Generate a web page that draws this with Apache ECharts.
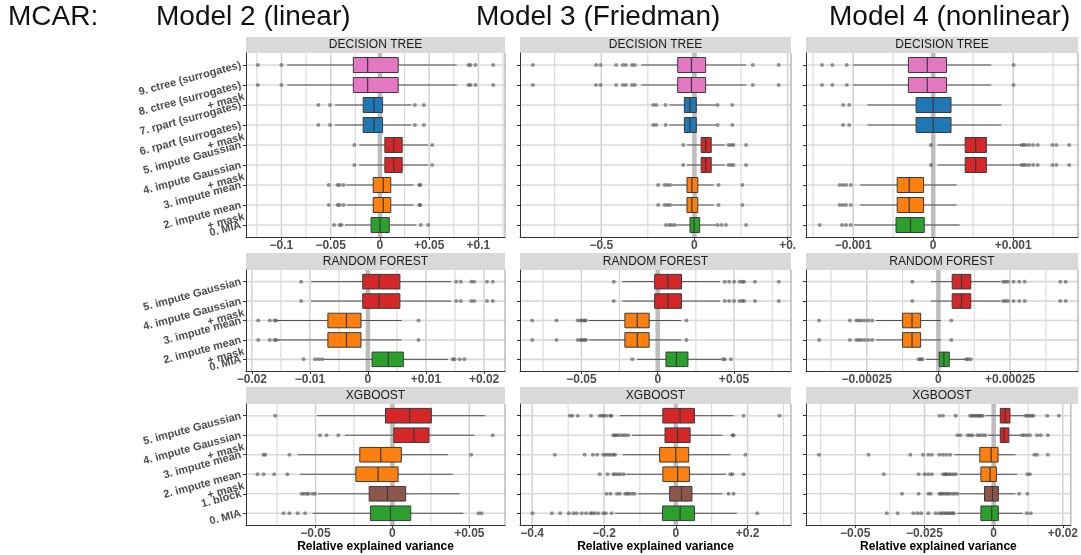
<!DOCTYPE html>
<html><head><meta charset="utf-8">
<script src="https://cdn.jsdelivr.net/npm/echarts@6/dist/echarts.min.js"></script>
<style>html,body{margin:0;padding:0;background:#fff}#c{width:1081px;height:555px}</style>
</head><body><div id="c"></div>
<script>
// ---------- categories (top to bottom) ----------
const catsDT = ['9. ctree (surrogates)', '8. ctree (surrogates)\n+ mask', '7. rpart (surrogates)', '6. rpart (surrogates)\n+ mask', '5. impute Gaussian', '4. impute Gaussian\n+ mask', '3. impute mean', '2. impute mean\n+ mask', '0. MIA'];
const catsRF = ['5. impute Gaussian', '4. impute Gaussian\n+ mask', '3. impute mean', '2. impute mean\n+ mask', '0. MIA'];
const catsXG = ['5. impute Gaussian', '4. impute Gaussian\n+ mask', '3. impute mean', '2. impute mean\n+ mask', '1. block', '0. MIA'];
const colsDT = ['#e377c2', '#e377c2', '#1f77b4', '#1f77b4', '#d62728', '#d62728', '#ff7f0e', '#ff7f0e', '#2ca02c'];
const colsRF = ['#d62728', '#d62728', '#ff7f0e', '#ff7f0e', '#2ca02c'];
const colsXG = ['#d62728', '#d62728', '#ff7f0e', '#ff7f0e', '#8c564b', '#2ca02c'];

// ---------- box stats: [lower whisker, Q1, median, Q3, upper whisker] ----------
// Model 2 (linear)
const m2DTBox = [[-0.094, -0.027, -0.0125, 0.0186, 0.078], [-0.094, -0.027, -0.0125, 0.0186, 0.078], [-0.0456, -0.017, -0.006, 0.0027, 0.032], [-0.0456, -0.017, -0.006, 0.0027, 0.032], [-0.021, 0.005, 0.0142, 0.0226, 0.049], [-0.021, 0.005, 0.0142, 0.0226, 0.049], [-0.034, -0.0068, 0.0034, 0.011, 0.034], [-0.034, -0.0068, 0.0034, 0.011, 0.034], [-0.0355, -0.009, 0, 0.0095, 0.037]];
const m2DTOut = [[-0.124, -0.100, 0.090, 0.092, 0.097, 0.115], [-0.124, -0.100, 0.090, 0.092, 0.097, 0.115], [-0.0625, -0.0507, 0.0355, 0.0446], [-0.0625, -0.0507, 0.0355, 0.0446], [-0.026, 0.053], [-0.026, 0.053], [-0.052, -0.043, -0.041, -0.037, 0.040, 0.041], [-0.052, -0.043, -0.041, -0.037, 0.040, 0.041], [-0.0466, -0.041, -0.039, 0.0415, 0.049]];
const m2RFBox = [[-0.0098, -0.0009, 0.0019, 0.0055, 0.0143], [-0.0098, -0.0009, 0.0019, 0.0055, 0.0143], [-0.0157, -0.0069, -0.0037, -0.0012, 0.0058], [-0.0157, -0.0069, -0.0037, -0.0012, 0.0058], [-0.0077, 0.0007, 0.0035, 0.0061, 0.0138]];
const m2RFOut = [[-0.0115, 0.0152, 0.016, 0.0178, 0.0183, 0.0205, 0.0215], [-0.0115, 0.0152, 0.016, 0.0178, 0.0183, 0.0205, 0.0215], [-0.0189, -0.0169, -0.0161, -0.0158, 0.0087], [-0.0189, -0.0169, -0.0161, -0.0158, 0.0087], [-0.0111, -0.0091, -0.0085, -0.0079, 0.0146, 0.0149, 0.0158, 0.0166]];
const m2XGBox = [[-0.0492, -0.0045, 0.0112, 0.0253, 0.0603], [-0.0309, 0.0009, 0.014, 0.0238, 0.0533], [-0.0616, -0.0212, -0.0076, 0.0058, 0.036], [-0.06, -0.0238, -0.0093, 0.0037, 0.0393], [-0.0482, -0.0151, -0.0032, 0.0086, 0.0436], [-0.0518, -0.0143, -0.0013, 0.0119, 0.0462]];
const m2XGOut = [[-0.0762], [-0.0471, -0.0428, -0.0352, 0.0652], [-0.0838, -0.0827, -0.067, 0.0512], [-0.0877, -0.0838, -0.0769, -0.0683], [-0.059, -0.0575, -0.0557, -0.0546, -0.052, -0.0503], [-0.0708, -0.067, -0.0616, -0.0568, 0.056, 0.058]];
// Model 3 (Friedman)
const m3DTBox = [[-0.285, -0.09, -0.016, 0.06, 0.277], [-0.285, -0.09, -0.016, 0.06, 0.277], [-0.135, -0.054, -0.024, 0.01, 0.115], [-0.135, -0.054, -0.024, 0.01, 0.115], [-0.04, 0.036, 0.06, 0.09, 0.163], [-0.04, 0.036, 0.06, 0.09, 0.163], [-0.122, -0.04, -0.014, 0.018, 0.104], [-0.122, -0.04, -0.014, 0.018, 0.104], [-0.096, -0.024, -0.002, 0.028, 0.114]];
const m3DTOut = [[-0.867, -0.528, -0.504, -0.42, -0.384, -0.368, -0.335, -0.32, 0.313, 0.452], [-0.867, -0.528, -0.504, -0.42, -0.384, -0.368, -0.335, -0.32, 0.313, 0.452], [-0.221, -0.205, -0.155, 0.124, 0.203], [-0.221, -0.205, -0.155, 0.124, 0.203], [-0.06, 0.183, 0.197, 0.209, 0.277], [-0.06, 0.183, 0.197, 0.209, 0.277], [-0.195, -0.16, -0.145, -0.131, 0.129, 0.257], [-0.195, -0.16, -0.145, -0.131, 0.129, 0.257], [-0.153, -0.135, -0.122, -0.106, 0.124, 0.145, 0.169, 0.277]];
const m3RFBox = [[-0.0232, -0.002, 0.0066, 0.0156, 0.0407], [-0.0232, -0.002, 0.0066, 0.0156, 0.0407], [-0.0451, -0.0215, -0.0134, -0.0056, 0.0154], [-0.0451, -0.0215, -0.0134, -0.0056, 0.0154], [-0.0134, 0.0054, 0.0122, 0.0198, 0.0415]];
const m3RFOut = [[-0.0288, 0.0439, 0.0468, 0.05, 0.0537, 0.0554, 0.0566, 0.0637, 0.0793], [-0.0288, 0.0439, 0.0468, 0.05, 0.0537, 0.0554, 0.0566, 0.0637, 0.0793], [-0.0822, -0.0663, -0.0524, -0.0505, -0.0495, -0.048, -0.047, 0.0188], [-0.0822, -0.0663, -0.0524, -0.0505, -0.0495, -0.048, -0.047, 0.0188], [-0.0166, 0.0427, 0.0439, 0.048]];
const m3XGBox = [[-0.156, -0.036, 0.012, 0.052, 0.161], [-0.122, -0.03, 0.005, 0.04, 0.13], [-0.148, -0.045, 0, 0.036, 0.152], [-0.138, -0.036, 0.005, 0.038, 0.14], [-0.105, -0.017, 0.016, 0.045, 0.13], [-0.169, -0.037, 0.012, 0.052, 0.17]];
const m3XGOut = [[-0.295, -0.288, -0.273, -0.236, -0.212, -0.205, -0.2, -0.192, -0.182, -0.179, 0.189, 0.289], [-0.174, -0.169, -0.164, -0.156, -0.148, -0.141, -0.133, 0.158, 0.161], [-0.337, -0.254, -0.231, -0.219, -0.202, -0.195, -0.188, -0.181, -0.174, -0.169, 0.194], [-0.212, -0.19, -0.174, -0.169, -0.161, -0.154, -0.145, 0.152, 0.158, 0.189], [-0.193, -0.182, -0.164, -0.156, -0.141, -0.135, -0.13, -0.122, -0.115, 0.147, 0.161], [-0.399, -0.345, -0.322, -0.298, -0.285, -0.276, -0.262, -0.25, -0.238, -0.233, -0.226, -0.216, -0.202, -0.195, -0.179, 0.227]];
// Model 4 (nonlinear)
const m4DTBox = [[-1.0e-3, -0.31e-3, -0.074e-3, 0.167e-3, 0.726e-3], [-1.0e-3, -0.31e-3, -0.074e-3, 0.167e-3, 0.726e-3], [-0.823e-3, -0.214e-3, 0, 0.223e-3, 0.851e-3], [-0.823e-3, -0.214e-3, 0, 0.223e-3, 0.851e-3], [0.056e-3, 0.4e-3, 0.53e-3, 0.665e-3, 1.098e-3], [0.056e-3, 0.4e-3, 0.53e-3, 0.665e-3, 1.098e-3], [-0.91e-3, -0.45e-3, -0.3e-3, -0.12e-3, 0.293e-3], [-0.91e-3, -0.45e-3, -0.3e-3, -0.12e-3, 0.293e-3], [-0.99e-3, -0.465e-3, -0.284e-3, -0.112e-3, 0.33e-3]];
const m4DTOut = [[-1.39e-3, -1.26e-3, -1.08e-3, 1.005e-3], [-1.39e-3, -1.26e-3, -1.08e-3, 1.005e-3], [-1.126e-3, -1.05e-3], [-1.126e-3, -1.05e-3], [-0.028e-3, 1.107e-3, 1.13e-3, 1.16e-3, 1.2e-3, 1.25e-3, 1.307e-3, 1.49e-3, 1.54e-3, 1.7e-3], [-0.028e-3, 1.107e-3, 1.13e-3, 1.16e-3, 1.2e-3, 1.25e-3, 1.307e-3, 1.49e-3, 1.54e-3, 1.7e-3], [-1.17e-3, -1.13e-3, -1.09e-3, -1.03e-3], [-1.17e-3, -1.13e-3, -1.09e-3, -1.03e-3], [-1.42e-3, -1.14e-3, -1.09e-3, -1.03e-3]];
const m4RFBox = [[-0.026e-3, 0.048e-3, 0.0805e-3, 0.113e-3, 0.217e-3], [-0.026e-3, 0.048e-3, 0.0805e-3, 0.113e-3, 0.217e-3], [-0.218e-3, -0.125e-3, -0.092e-3, -0.062e-3, 0.009e-3], [-0.218e-3, -0.125e-3, -0.092e-3, -0.062e-3, 0.009e-3], [-0.043e-3, 0.0026e-3, 0.019e-3, 0.038e-3, 0.0935e-3]];
const m4RFOut = [[-0.091e-3, 0.226e-3, 0.234e-3, 0.243e-3, 0.262e-3, 0.282e-3, 0.301e-3, 0.425e-3, 0.444e-3], [-0.091e-3, 0.226e-3, 0.234e-3, 0.243e-3, 0.262e-3, 0.282e-3, 0.301e-3, 0.425e-3, 0.444e-3], [-0.416e-3, -0.309e-3, -0.286e-3, -0.277e-3, -0.268e-3, -0.257e-3, -0.244e-3, -0.231e-3, 0.045e-3], [-0.416e-3, -0.309e-3, -0.286e-3, -0.277e-3, -0.268e-3, -0.257e-3, -0.244e-3, -0.231e-3, 0.045e-3], [-0.069e-3, -0.062e-3, -0.056e-3, 0.097e-3, 0.104e-3, 0.113e-3]];
const m4XGBox = [[-0.0029, 0.0024, 0.0042, 0.0059, 0.0111], [-0.002, 0.0024, 0.0037, 0.0055, 0.0096], [-0.0141, -0.005, -0.0009, 0.0016, 0.0079], [-0.0124, -0.0046, -0.0013, 0.001, 0.0085], [-0.0124, -0.0033, -0.0004, 0.0017, 0.0079], [-0.0131, -0.0046, -0.0007, 0.0017, 0.0105]];
const m4XGOut = [[-0.0196, -0.0183, -0.0137, -0.0085, -0.0078, -0.0072, -0.0065, -0.0058, -0.0052, -0.0046, -0.0039, 0.0115, 0.0122, 0.013, 0.0137, 0.0144, 0.0194, 0.0236], [-0.0131, -0.012, -0.0094, -0.0085, -0.0076, -0.0059, -0.005, -0.004, -0.003, 0.0102, 0.011, 0.012, 0.0131, 0.0157, 0.017, 0.0196], [-0.0631, -0.0452, -0.0301, -0.0255, -0.0236, -0.0223, -0.0196, -0.0183, -0.017, -0.0157, 0.0147, 0.0157, 0.0196], [-0.0397, -0.0271, -0.0249, -0.0236, -0.0223, -0.0183, -0.0175, -0.017, -0.0162, -0.0154, -0.0145, -0.0136, 0.0122, 0.0131], [-0.0331, -0.0271, -0.0236, -0.0227, -0.0196, -0.019, -0.0183, -0.0175, -0.0167, -0.016, -0.015, -0.0141, -0.0131, 0.0092, 0.0122], [-0.0386, -0.0347, -0.029, -0.0275, -0.0262, -0.0236, -0.0209, -0.0196, -0.0188, -0.018, -0.0172, -0.0165, -0.0157, -0.015, -0.0144, 0.012, 0.0134]];

// ---------- axis limits, ticks, tick labels, minor gridlines ----------
const m2DTLim = [-0.136, 0.127], m2DTTicks = [-0.1, -0.05, 0, 0.05, 0.1], m2DTLabels = ['−0.1', '−0.05', '0', '+0.05', '+0.1'], m2DTMinor = [-0.125, -0.075, -0.025, 0.025, 0.075, 0.125];
const m3DTLim = [-0.936, 0.518], m3DTTicks = [-0.5, 0, 0.5], m3DTLabels = ['−0.5', '0', '+0.'], m3DTMinor = [-0.75, -0.25, 0.25];
const m4DTLim = [-0.00159, 0.00181], m4DTTicks = [-0.001, 0, 0.001], m4DTLabels = ['−0.001', '0', '+0.001'], m4DTMinor = [-0.0015, -0.0005, 0.0005, 0.0015];
const m2RFLim = [-0.021, 0.0236], m2RFTicks = [-0.02, -0.01, 0, 0.01, 0.02], m2RFLabels = ['−0.02', '−0.01', '0', '+0.01', '+0.02'], m2RFMinor = [-0.015, -0.005, 0.005, 0.015];
const m3RFLim = [-0.0902, 0.0873], m3RFTicks = [-0.05, 0, 0.05], m3RFLabels = ['−0.05', '0', '+0.05'], m3RFMinor = [-0.075, -0.025, 0.025, 0.075];
const m4RFLim = [-0.000462, 0.000487], m4RFTicks = [-0.00025, 0, 0.00025], m4RFLabels = ['−0.00025', '0', '+0.00025'], m4RFMinor = [-0.000375, -0.000125, 0.000125, 0.000375];
const m2XGLim = [-0.0952, 0.0732], m2XGTicks = [-0.05, 0, 0.05], m2XGLabels = ['−0.05', '0', '+0.05'], m2XGMinor = [-0.075, -0.025, 0.025];
const m3XGLim = [-0.434, 0.321], m3XGTicks = [-0.4, -0.2, 0, 0.2], m3XGLabels = ['−0.4', '−0.2', '0', '+0.2'], m3XGMinor = [-0.3, -0.1, 0.1, 0.3];
const m4XGLim = [-0.0678, 0.0279], m4XGTicks = [-0.05, -0.025, 0, 0.025], m4XGLabels = ['−0.05', '−0.025', '0', '+0.02'], m4XGMinor = [-0.0625, -0.0375, -0.0125, 0.0125];

const modelTitles = ['Model 2 (linear)', 'Model 3 (Friedman)', 'Model 4 (nonlinear)'];
const stripTitles = ['DECISION TREE', 'RANDOM FOREST', 'XGBOOST'];
const axisTitle = 'Relative explained variance';

// ---------- layout ----------
const colLeft = [246, 520, 806], colWidth = [259, 271, 272];
const rowTop = [53, 270, 404], rowHeight = [184, 101, 121];
const stripTop = [37, 253, 387];
const FONT = '"Liberation Sans", Arial, Helvetica, sans-serif';

const panels = [
  {r: 0, c: 0, cats: catsDT, cols: colsDT, box: m2DTBox, out: m2DTOut, lim: m2DTLim, ticks: m2DTTicks, labels: m2DTLabels, minor: m2DTMinor},
  {r: 0, c: 1, cats: catsDT, cols: colsDT, box: m3DTBox, out: m3DTOut, lim: m3DTLim, ticks: m3DTTicks, labels: m3DTLabels, minor: m3DTMinor},
  {r: 0, c: 2, cats: catsDT, cols: colsDT, box: m4DTBox, out: m4DTOut, lim: m4DTLim, ticks: m4DTTicks, labels: m4DTLabels, minor: m4DTMinor},
  {r: 1, c: 0, cats: catsRF, cols: colsRF, box: m2RFBox, out: m2RFOut, lim: m2RFLim, ticks: m2RFTicks, labels: m2RFLabels, minor: m2RFMinor},
  {r: 1, c: 1, cats: catsRF, cols: colsRF, box: m3RFBox, out: m3RFOut, lim: m3RFLim, ticks: m3RFTicks, labels: m3RFLabels, minor: m3RFMinor},
  {r: 1, c: 2, cats: catsRF, cols: colsRF, box: m4RFBox, out: m4RFOut, lim: m4RFLim, ticks: m4RFTicks, labels: m4RFLabels, minor: m4RFMinor},
  {r: 2, c: 0, cats: catsXG, cols: colsXG, box: m2XGBox, out: m2XGOut, lim: m2XGLim, ticks: m2XGTicks, labels: m2XGLabels, minor: m2XGMinor},
  {r: 2, c: 1, cats: catsXG, cols: colsXG, box: m3XGBox, out: m3XGOut, lim: m3XGLim, ticks: m3XGTicks, labels: m3XGLabels, minor: m3XGMinor},
  {r: 2, c: 2, cats: catsXG, cols: colsXG, box: m4XGBox, out: m4XGOut, lim: m4XGLim, ticks: m4XGTicks, labels: m4XGLabels, minor: m4XGMinor}
];

function nearestLabel(p, v) {
  let best = 0, bd = Infinity;
  p.ticks.forEach((t, i) => { const d = Math.abs(t - v); if (d < bd) { bd = d; best = i; } });
  return p.labels[best];
}

function frameRenderer(p) {
  return function (params, api) {
    const cs = params.coordSys;
    const ch = [];
    const vline = (v, stroke, w) => {
      const x = api.coord([v, 0])[0];
      ch.push({type: 'line', shape: {x1: x, y1: cs.y, x2: x, y2: cs.y + cs.height}, style: {stroke: stroke, lineWidth: w}});
    };
    p.minor.forEach(v => vline(v, '#d9d9d9', 1.1));
    p.ticks.forEach(v => vline(v, '#cfcfcf', 1.4));
    p.cats.forEach((c, i) => {
      const y = api.coord([0, i])[1];
      ch.push({type: 'line', shape: {x1: cs.x, y1: y, x2: cs.x + cs.width, y2: y}, style: {stroke: '#dadada', lineWidth: 1.6}});
    });
    vline(0, '#bdbdbd', 4.5);
    ch.push({type: 'line', shape: {x1: cs.x + cs.width, y1: cs.y, x2: cs.x + cs.width, y2: cs.y + cs.height}, style: {stroke: '#9a9a9a', lineWidth: 1}});
    return {type: 'group', children: ch};
  };
}

function boxRenderer(p) {
  return function (params, api) {
    const y = api.value(0);
    const lo = api.coord([api.value(1), y]);
    const q1 = api.coord([api.value(2), y]);
    const md = api.coord([api.value(3), y]);
    const q3 = api.coord([api.value(4), y]);
    const hi = api.coord([api.value(5), y]);
    const h = api.size([0, 1])[1] * 0.75;
    const yc = lo[1];
    const color = p.cols[params.dataIndex];
    return {type: 'group', children: [
      {type: 'line', shape: {x1: lo[0], y1: yc, x2: q1[0], y2: yc}, style: {stroke: '#505050', lineWidth: 1}},
      {type: 'line', shape: {x1: q3[0], y1: yc, x2: hi[0], y2: yc}, style: {stroke: '#505050', lineWidth: 1}},
      {type: 'rect', shape: {x: q1[0], y: yc - h / 2, width: q3[0] - q1[0], height: h}, style: {fill: color, stroke: '#3a3a3a', lineWidth: 1}},
      {type: 'line', shape: {x1: md[0], y1: yc - h / 2, x2: md[0], y2: yc + h / 2}, style: {stroke: '#3a3a3a', lineWidth: 1.2}}
    ]};
  };
}

const grids = [], xAxes = [], yAxes = [], series = [], graphics = [];
panels.forEach((p, k) => {
  const left = colLeft[p.c], top = rowTop[p.r], width = colWidth[p.c], height = rowHeight[p.r];
  const n = p.cats.length;
  const idx = p.cats.map((_, i) => i);
  const single = idx.filter(i => p.cats[i].indexOf('\n') < 0);
  const multi = idx.filter(i => p.cats[i].indexOf('\n') >= 0);
  grids.push({left: left, top: top, width: width, height: height, containLabel: false});
  xAxes.push({
    gridIndex: k, type: 'value', min: p.lim[0], max: p.lim[1], z: 6,
    splitLine: {show: false}, minorSplitLine: {show: false},
    axisLine: {show: true, onZero: false, lineStyle: {color: '#333', width: 1}},
    axisTick: {show: true, length: 3, customValues: p.ticks, lineStyle: {color: '#333'}},
    axisLabel: {show: true, customValues: p.ticks, margin: 3, showMinLabel: true, showMaxLabel: true, hideOverlap: false, fontFamily: FONT, fontSize: 12, fontWeight: 'bold', color: '#4d4d4d', formatter: v => nearestLabel(p, v)},
    name: p.r === 2 ? axisTitle : '', nameLocation: 'middle', nameGap: 15,
    nameTextStyle: {fontFamily: FONT, fontSize: 12, fontWeight: 'bold', color: '#000'}
  });
  const labelStyle = {rotate: 15, margin: 5, showMinLabel: true, showMaxLabel: true, hideOverlap: false, fontFamily: FONT, fontSize: 11, fontWeight: 'bold', color: '#4d4d4d', lineHeight: 12, align: 'right'};
  const ykA = yAxes.length;
  // main axis: line, ticks, single-line labels
  yAxes.push({
    gridIndex: k, type: 'value', inverse: true, min: -0.6, max: n - 0.4, z: 6, position: 'left',
    splitLine: {show: false},
    axisLine: {show: true, onZero: false, lineStyle: {color: '#333', width: 1}},
    axisTick: {show: true, length: 3, customValues: idx, lineStyle: {color: '#333'}},
    axisLabel: Object.assign({show: p.c === 0, customValues: single, formatter: v => p.cats[Math.round(v)]}, labelStyle)
  });
  // companion axis: two-line labels (first line on the tick, second below)
  yAxes.push({
    gridIndex: k, type: 'value', inverse: true, min: -0.6, max: n - 0.4, z: 6, position: 'left', offset: 0,
    splitLine: {show: false}, axisLine: {show: false, onZero: false}, axisTick: {show: false},
    axisLabel: Object.assign({show: p.c === 0, customValues: multi, formatter: v => '\n' + p.cats[Math.round(v)]}, labelStyle)
  });
  series.push({type: 'custom', xAxisIndex: k, yAxisIndex: ykA, z: 1, silent: true, renderItem: frameRenderer(p), data: [[0, 0]]});
  series.push({type: 'custom', xAxisIndex: k, yAxisIndex: ykA, z: 3, silent: true, renderItem: boxRenderer(p),
    encode: {x: [1, 2, 3, 4, 5], y: 0},
    data: p.box.map((b, i) => [i, b[0], b[1], b[2], b[3], b[4]])});
  const pts = [];
  p.out.forEach((arr, i) => arr.forEach(v => pts.push([v, i])));
  series.push({type: 'scatter', xAxisIndex: k, yAxisIndex: ykA, z: 4, silent: true, symbolSize: 4,
    itemStyle: {color: 'rgba(60,60,60,0.65)'}, data: pts});
  graphics.push({type: 'rect', shape: {x: left, y: stripTop[p.r], width: width, height: top - stripTop[p.r]}, style: {fill: '#d9d9d9'}, silent: true});
  graphics.push({type: 'text', x: left + width / 2, y: (stripTop[p.r] + top) / 2, silent: true,
    style: {text: stripTitles[p.r], font: '12px ' + FONT, fill: '#1a1a1a', align: 'center', verticalAlign: 'middle'}});
});

const titles = [{text: 'MCAR:', left: 8, top: 3}];
const titleLeft = [156, 476, 829];
modelTitles.forEach((t, i) => titles.push({text: t, left: titleLeft[i], top: 3}));
titles.forEach(t => { t.textStyle = {fontFamily: FONT, fontSize: 28, fontWeight: 'normal', color: '#111'}; t.padding = 0; });

const chart = echarts.init(document.getElementById('c'), null, {renderer: 'canvas', width: 1081, height: 555});
chart.setOption({
  animation: false,
  backgroundColor: '#ffffff',
  title: titles,
  grid: grids,
  xAxis: xAxes,
  yAxis: yAxes,
  series: series,
  graphic: graphics
});
</script>
</body></html>
